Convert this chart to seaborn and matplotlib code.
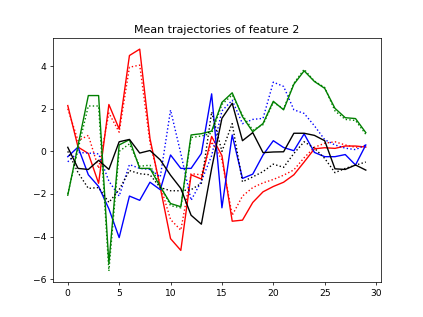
import numpy as np
import pandas as pd
import matplotlib
matplotlib.use("Agg")
import matplotlib.pyplot as plt
import seaborn as sns

steps = list(range(30))

red_solid = [2.15, 0.2, -0.1, -1.5, 2.2, 1.05, 4.5, 4.8, 0.6, -1.7, -4.1, -4.65, -1.1, -1.3, 0.7,
             -0.2, -3.28, -3.23, -2.4, -1.9, -1.65, -1.45, -1.1, -0.5, 0.12, 0.17, 0.14, 0.25, 0.25, 0.2]
red_dotted = [2.0, 0.5, 0.75, -0.8, 1.8, 0.9, 3.95, 4.05, 0.4, -1.6, -3.2, -3.7, -1.05, -1.1, 0.45,
              -0.4, -3.0, -2.1, -1.7, -1.48, -1.32, -1.12, -0.87, -0.3, 0.19, 0.38, 0.45, 0.3, 0.19, 0.25]
green_solid = [-2.06, 0.28, 2.62, 2.62, -5.27, 0.3, 0.55, -0.8, -0.8, -1.66, -2.45, -2.6, 0.77, 0.83, 0.95,
               2.3, 2.75, 1.63, 0.92, 1.31, 2.35, 1.95, 3.15, 3.78, 3.28, 2.96, 2.02, 1.58, 1.54, 0.88]
green_dotted = [-2.0, 0.1, 2.13, 2.13, -5.62, 0.0, 0.35, -0.7, -0.65, -1.6, -2.55, -2.65, 0.65, 0.72, 0.85,
                2.2, 2.65, 1.7, 1.0, 1.25, 2.3, 2.0, 3.2, 3.85, 3.3, 3.0, 1.9, 1.5, 1.45, 0.8]
black_solid = [0.19, -0.8, -0.85, -0.42, -0.85, 0.45, 0.56, -0.08, 0.04, -0.4, -1.12, -1.74, -3.0, -3.42, -0.8,
               1.55, 2.26, 0.5, 0.88, -0.06, -0.03, -0.02, 0.85, 0.85, 0.75, 0.5, -0.82, -0.85, -0.64, -0.88]
black_dotted = [0.0, -1.0, -1.74, -1.7, -2.4, -1.8, -0.9, -1.05, -1.1, -1.7, -1.85, -1.85, -1.8, -1.5, 1.85,
                0.0, 1.3, -1.43, -1.2, -0.95, -0.6, -0.75, -0.1, 0.45, 0.15, -0.33, -1.0, -0.8, -0.65, -0.5]
blue_solid = [-0.25, 0.2, -1.1, -1.65, -2.7, -4.05, -2.1, -2.3, -1.45, -1.8, -0.17, -0.8, -0.8, -0.1, 2.7,
              -2.65, 0.77, -1.27, -1.07, -0.17, 0.5, 0.18, 0.03, 0.82, -0.05, -0.25, -0.25, -0.15, -0.64, 0.3]
blue_dotted = [-0.49, -0.05, -0.08, -0.12, -1.4, -2.1, -0.62, -0.8, -0.85, -1.2, 1.94, -0.1, -2.3, -1.4, -0.2,
               1.9, 2.4, 1.3, 1.5, 1.55, 3.25, 3.05, 1.95, 1.78, 1.2, 0.55, 0.3, 0.15, 0.08, 0.3]

series = [
    (red_solid, "r", "-"), (red_dotted, "r", ":"),
    (blue_solid, "b", "-"), (blue_dotted, "b", ":"),
    (green_solid, "g", "-"), (green_dotted, "g", ":"),
    (black_solid, "k", "-"), (black_dotted, "k", ":"),
]

fig, ax = plt.subplots(figsize=(423 / 66, 317 / 66), dpi=66)
for vals, col, ls in series:
    df = pd.DataFrame({"t": steps, "v": vals})
    sns.lineplot(data=df, x="t", y="v", color=col, linestyle=ls, ax=ax, linewidth=1.5)

ax.set_title("Mean trajectories of feature 2")
ax.set_xlabel("")
ax.set_ylabel("")
fig.savefig("out.png", dpi=66)
